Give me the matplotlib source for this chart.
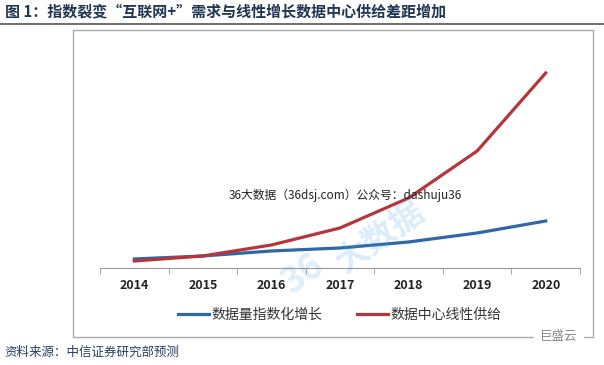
import matplotlib.pyplot as plt
from matplotlib.patches import Rectangle
from matplotlib.lines import Line2D

plt.rcParams['font.family'] = ['Noto Sans CJK SC', 'DejaVu Sans']

# 数据
years = ['2014', '2015', '2016', '2017', '2018', '2019', '2020']
data_growth = [9, 12, 17, 20, 26, 35, 47]        # 数据量指数化增长
dc_supply = [7, 12, 23, 40, 70, 117, 195]         # 数据中心线性供给

blue = '#2f68a6'
red = '#b5363a'

fig = plt.figure(figsize=(6.04, 3.65), dpi=100)
ax = fig.add_axes([0.1656, 0.2658, 0.7947, 0.6247])

x = range(len(years))
ax.plot(x, data_growth, color=blue, lw=2.3, label='数据量指数化增长', zorder=3)
ax.plot(x, dc_supply, color=red, lw=2.3, label='数据中心线性供给', zorder=3)

ax.set_xlim(-0.5, 6.5)
ax.set_ylim(0, 228)
ax.set_yticks([])
for s in ['left', 'right', 'top']:
    ax.spines[s].set_visible(False)
ax.spines['bottom'].set_color('#999999')
ax.set_xticks(list(x))
ax.set_xticklabels(years, fontweight='bold', fontsize=9, color='#222222')
ax.tick_params(axis='x', which='major', length=0, pad=8)
ax.set_xticks([i - 0.5 for i in range(len(years) + 1)], minor=True)
ax.tick_params(axis='x', which='minor', length=4, color='#999999')

leg = ax.legend(loc='upper center', bbox_to_anchor=(0.5, -0.12), ncol=2,
                frameon=False, fontsize=10, handlelength=2.2, columnspacing=2.5,
                handletextpad=0.2)
for t in leg.get_texts():
    t.set_color('#333333')

# 水印
ax.text(0.51, 0.32, '36大数据（36dsj.com）公众号：dashuju36', transform=ax.transAxes,
        ha='center', va='center', fontsize=8.5, color='#222222',
        family=['Noto Sans CJK SC', 'DejaVu Sans Mono'])
fig.text(0.63, 0.35, '大数据', fontsize=24, color='#4fa3e0', alpha=0.2,
         rotation=35, ha='center', va='center', fontweight='bold')
fig.text(0.5, 0.25, '36', fontsize=26, color='#4fa3e0', alpha=0.18,
         rotation=35, ha='center', va='center', fontweight='bold')

# 标题与边框
fig.text(0.008, 0.965, '图 1：指数裂变“互联网+”需求与线性增长数据中心供给差距增加',
         fontsize=10.8, fontweight='bold', color='#1f3552', va='center')
fig.add_artist(Line2D([0, 1], [0.933, 0.933], color='#555555', lw=1.2))
fig.add_artist(Rectangle((0.121, 0.077), 0.861, 0.84, fill=False,
                         edgecolor='#aaaaaa', lw=1.0))
fig.text(0.008, 0.035, '资料来源：中信证券研究部预测', fontsize=9,
         color='#2a3f5a', va='center')
fig.text(0.925, 0.077, '巨盛云', fontsize=9, color='#888888', va='center',
         ha='center', backgroundcolor='white')

fig.savefig('out.png', dpi=100)
